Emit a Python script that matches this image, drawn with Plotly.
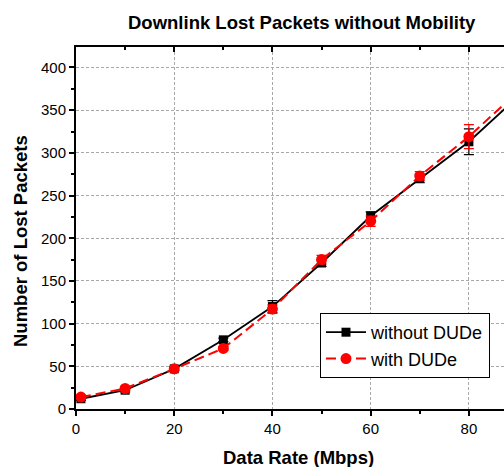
import plotly.graph_objects as go

rate = [1, 10, 20, 30, 40, 50, 60, 70, 80, 90]
without_dude = [12, 22, 47, 81, 120, 171, 226, 270, 313, 366]
without_err = [2, 2, 2, 2, 7, 4, 5, 5, 15, 15]
with_dude = [14, 24, 47, 71, 117, 175, 220, 273, 319, 372]
with_err = [2, 2, 2, 2, 5, 5, 6, 5, 14, 14]

x_ticks = [0, 20, 40, 60, 80]
x_minor = [10, 30, 50, 70, 90]
y_ticks = [0, 50, 100, 150, 200, 250, 300, 350, 400]
y_minor = [25, 75, 125, 175, 225, 275, 325, 375, 425]

FONT = "Arial, Liberation Sans, sans-serif"
# plot area in page pixels
PL, PT, PB, PR = 76, 47, 409, 518
W, H = 520, 467

fig = go.Figure()
fig.add_trace(go.Scatter(
    x=rate, y=without_dude, name="without DUDe", mode="lines+markers",
    line=dict(color="black", width=1.8),
    marker=dict(symbol="square", size=9, color="black"),
    error_y=dict(type="data", array=without_err, color="black", thickness=1.2, width=5),
))
fig.add_trace(go.Scatter(
    x=rate, y=with_dude, name="with DUDe", mode="lines+markers",
    line=dict(color="#ff0000", width=2, dash="10px,5px"),
    marker=dict(symbol="circle", size=11, color="#ff0000"),
    error_y=dict(type="data", array=with_err, color="#ff0000", thickness=1.2, width=5),
))
fig.add_trace(go.Scatter(x=[0], y=[0], xaxis="x2", mode="markers",
                         marker=dict(opacity=0), showlegend=False, hoverinfo="skip"))

pw, ph = PR - PL, PB - PT


def px(x):
    return (x - PL) / pw


def py(y):
    return (PB - y) / ph


grid = dict(showgrid=True, gridcolor="#a8a8a8", griddash="3px,2px", gridwidth=1)

fig.update_layout(
    width=W, height=H,
    margin=dict(l=PL, r=W - PR, t=PT, b=H - PB),
    paper_bgcolor="white", plot_bgcolor="white",
    font=dict(family=FONT, size=15, color="black"),
    showlegend=True,
    hovermode=False,
    legend=dict(x=px(320), y=py(313), xanchor="left", yanchor="top",
                bordercolor="black", borderwidth=1, bgcolor="white",
                font=dict(size=18, family=FONT), tracegroupgap=0,
                itemwidth=40),
    xaxis=dict(range=[0, 90], tickvals=x_ticks,
               ticks="outside", ticklen=5, tickwidth=2, tickcolor="black",
               minor=dict(tickvals=x_minor, ticks="outside", ticklen=3,
                          tickwidth=2, tickcolor="black", showgrid=False),
               showline=True, linecolor="black", linewidth=2,
               zeroline=False, tickfont=dict(size=15, family=FONT), **grid),
    xaxis2=dict(range=[0, 90], overlaying="x", side="top",
                tickvals=x_ticks, showticklabels=False,
                ticks="inside", ticklen=5, tickwidth=2, tickcolor="black",
                minor=dict(tickvals=x_minor, ticks="inside", ticklen=3,
                           tickwidth=2, tickcolor="black"),
                showline=True, linecolor="black", linewidth=2,
                showgrid=False, zeroline=False),
    yaxis=dict(range=[0, 424], tickvals=y_ticks,
               ticks="outside", ticklen=5, tickwidth=2, tickcolor="black",
               minor=dict(tickvals=y_minor, ticks="outside", ticklen=3,
                          tickwidth=2, tickcolor="black", showgrid=False),
               showline=True, linecolor="black", linewidth=2,
               zeroline=False, tickfont=dict(size=15, family=FONT), **grid),
    annotations=[
        dict(text="<b>Downlink Lost Packets without Mobility</b>", x=px(302), y=py(23),
             xref="paper", yref="paper", showarrow=False, xanchor="center", yanchor="middle",
             font=dict(size=18.5, family=FONT)),
        dict(text="<b>Data Rate (Mbps)</b>", x=px(298), y=py(457), xref="paper", yref="paper",
             showarrow=False, xanchor="center", yanchor="middle",
             font=dict(size=18.5, family=FONT)),
        dict(text="<b>Number of Lost Packets</b>", x=px(20), y=py(241), xref="paper", yref="paper",
             showarrow=False, textangle=-90, xanchor="center", yanchor="middle",
             font=dict(size=18.5, family=FONT)),
    ],
)

fig.write_html(
    "out.html",
    config={"displayModeBar": False},
    post_script="document.body.style.margin='0';document.body.style.overflow='hidden';"
                "document.documentElement.style.overflow='hidden';",
)
